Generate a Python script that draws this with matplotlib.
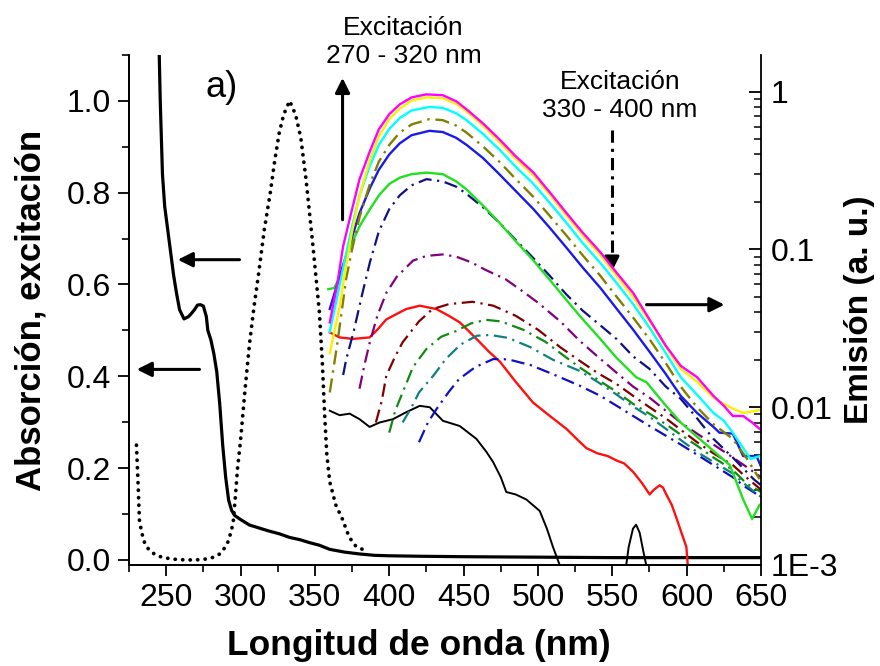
import matplotlib
matplotlib.use("Agg")
import matplotlib.pyplot as plt
from matplotlib.ticker import MultipleLocator, FixedLocator, FixedFormatter, LogLocator, NullFormatter

plt.rcParams['font.family'] = ['Liberation Sans', 'DejaVu Sans']

# absorption (left axis)
abs_x = [245, 246, 247.5, 249, 251, 253, 255, 257, 259, 262, 265, 267, 269, 271, 273, 275, 277, 278,
         280, 282, 284, 286, 288, 290, 292, 294, 296, 300, 306, 312, 319, 326, 333, 340, 346, 353, 360,
         370, 380, 390, 400, 420, 450, 500, 550, 600, 650]
abs_y = [1.15, 1.0, 0.84, 0.77, 0.72, 0.67, 0.62, 0.58, 0.545, 0.525, 0.53, 0.537, 0.545, 0.555, 0.556,
         0.553, 0.53, 0.50, 0.48, 0.45, 0.41, 0.34, 0.25, 0.18, 0.13, 0.108, 0.097, 0.088, 0.076, 0.070,
         0.063, 0.057, 0.049, 0.044, 0.038, 0.032, 0.023, 0.017, 0.013, 0.010, 0.009, 0.008, 0.007,
         0.006, 0.005, 0.005, 0.005]

# excitation spectrum (dotted, left axis)
exc_x = [230, 231, 232, 233.5, 235.5, 238, 241, 245, 250, 257, 263, 270, 277, 282, 286, 289, 291.5,
         293.5, 295, 296.5, 298, 300, 303, 306, 309, 312, 316, 320, 323, 326, 329, 333, 337, 340.5,
         344, 348.5, 353, 355, 356.5, 358, 360, 364, 368.5, 373, 377.5, 384]
exc_y = [0.25, 0.174, 0.087, 0.06, 0.037, 0.024, 0.015, 0.008, 0.004, 0.001, 0.0, 0.0, 0.002, 0.006,
         0.013, 0.025, 0.039, 0.06, 0.08, 0.137, 0.2, 0.26, 0.37, 0.47, 0.55, 0.62, 0.72, 0.80, 0.87,
         0.93, 0.97, 1.0, 0.97, 0.92, 0.83, 0.69, 0.54, 0.43, 0.32, 0.23, 0.17, 0.12, 0.089, 0.05,
         0.03, 0.02]

# emission spectra (right axis, log)
mag_x = [360, 365, 369, 375, 380, 387, 393, 400, 407, 415, 425, 436, 445, 452, 463, 474, 485, 497, 508,
         519, 530, 542, 553, 564, 575, 586, 596, 607, 618, 625, 631, 638, 644, 649]
mag_y = [0.0345, 0.06, 0.105, 0.18, 0.279, 0.42, 0.577, 0.72, 0.83, 0.92, 0.962, 0.95, 0.87, 0.773,
         0.63, 0.5, 0.39, 0.307, 0.23, 0.171, 0.128, 0.096, 0.071, 0.053, 0.036, 0.0245, 0.0183, 0.0155,
         0.0118, 0.0102, 0.0088, 0.0088, 0.0080, 0.0073]

yel_x = [360, 363, 367, 370, 375, 380, 387, 393, 400, 407, 415, 425, 436, 445, 452, 463, 474, 485, 497,
         508, 519, 530, 542, 553, 564, 575, 586, 596, 607, 618, 625, 631, 638, 644, 649]
yel_y = [0.022, 0.03, 0.045, 0.07, 0.13, 0.22, 0.37, 0.52, 0.67, 0.78, 0.88, 0.92, 0.91, 0.84, 0.75,
         0.61, 0.48, 0.375, 0.295, 0.222, 0.165, 0.123, 0.092, 0.068, 0.05, 0.035, 0.024, 0.0175,
         0.0145, 0.0115, 0.0105, 0.0098, 0.0092, 0.0094, 0.0096]

cya_x = [360, 365, 370, 375, 380, 387, 393, 400, 407, 415, 427, 436, 445, 452, 463, 474, 485, 497, 508,
         519, 530, 542, 553, 564, 575, 586, 596, 607, 618, 625, 631, 638, 643, 649]
cya_y = [0.03, 0.05, 0.085, 0.14, 0.22, 0.34, 0.46, 0.58, 0.68, 0.76, 0.80, 0.79, 0.73, 0.66, 0.54,
         0.43, 0.335, 0.26, 0.197, 0.148, 0.11, 0.082, 0.061, 0.045, 0.032, 0.022, 0.0155, 0.012,
         0.0092, 0.0082, 0.0069, 0.0055, 0.0047, 0.0049]

oli_x = [360, 365, 371, 375, 380, 387, 393, 400, 407, 415, 427, 436, 445, 452, 463, 474, 485, 497, 508,
         519, 530, 542, 553, 564, 575, 586, 596, 607, 618, 631, 640, 649]
oli_y = [0.0124, 0.025, 0.065, 0.1, 0.16, 0.26, 0.36, 0.46, 0.55, 0.62, 0.67, 0.66, 0.61, 0.55, 0.45,
         0.36, 0.28, 0.215, 0.163, 0.123, 0.092, 0.068, 0.05, 0.037, 0.027, 0.019, 0.0135, 0.01,
         0.0078, 0.0063, 0.0048, 0.0035]

blu_x = [360, 365, 370, 375, 380, 387, 393, 400, 407, 415, 427, 436, 445, 452, 463, 474, 485, 497, 508,
         519, 530, 542, 553, 564, 575, 586, 596, 607, 618, 622, 631, 638, 647, 650]
blu_y = [0.042, 0.06, 0.085, 0.12, 0.17, 0.245, 0.32, 0.4, 0.47, 0.53, 0.565, 0.555, 0.51, 0.46, 0.38,
         0.3, 0.235, 0.18, 0.137, 0.103, 0.077, 0.057, 0.042, 0.031, 0.0225, 0.0162, 0.0118, 0.0092,
         0.0075, 0.0069, 0.0068, 0.0049, 0.0049, 0.0042]

grn_x = [359, 363, 366, 370, 375, 380, 387, 393, 400, 407, 415, 425, 436, 445, 452, 463, 474, 485, 497,
         508, 519, 528, 542, 553, 566, 573, 585, 596, 607, 622, 629, 638, 644, 649]
grn_y = [0.056, 0.057, 0.065, 0.085, 0.11, 0.14, 0.18, 0.22, 0.26, 0.285, 0.30, 0.307, 0.30, 0.27, 0.24,
         0.19, 0.148, 0.113, 0.085, 0.064, 0.048, 0.038, 0.027, 0.0205, 0.0155, 0.0144, 0.0105, 0.008,
         0.0065, 0.0049, 0.0043, 0.0026, 0.00196, 0.0024]

nav_x = [369, 371, 376, 382, 387, 393, 400, 407, 415, 425, 436, 445, 452, 463, 474, 485, 497, 508, 519,
         530, 542, 553, 564, 575, 586, 596, 607, 618, 631, 645, 650]
nav_y = [0.016, 0.02, 0.03, 0.053, 0.083, 0.13, 0.18, 0.22, 0.255, 0.279, 0.27, 0.25, 0.225, 0.185,
         0.148, 0.115, 0.088, 0.068, 0.052, 0.041, 0.033, 0.027, 0.021, 0.0175, 0.0135, 0.0113, 0.0085,
         0.0063, 0.0048, 0.0035, 0.0032]

pur_x = [380, 383, 387, 392, 398, 405, 416, 425, 436, 445, 455, 465, 478, 490, 500, 515, 528, 540, 553,
         564, 575, 586, 596, 607, 618, 631, 640, 650]
pur_y = [0.0131, 0.018, 0.026, 0.038, 0.053, 0.067, 0.085, 0.091, 0.093, 0.09, 0.083, 0.074, 0.065,
         0.054, 0.046, 0.035, 0.0264, 0.021, 0.0165, 0.0135, 0.0115, 0.0095, 0.008, 0.0068, 0.0058,
         0.0048, 0.0042, 0.0036]

dre_x = [391, 395, 398, 404, 409, 420, 429, 440, 456, 470, 485, 500, 515, 528, 540, 553, 564, 575, 586,
         596, 607, 618, 631, 640, 650]
dre_y = [0.008, 0.011, 0.0158, 0.021, 0.0258, 0.035, 0.0418, 0.045, 0.0466, 0.044, 0.038, 0.031, 0.024,
         0.0197, 0.0165, 0.014, 0.0118, 0.01, 0.0085, 0.0072, 0.006, 0.0051, 0.0043, 0.0036, 0.003]

gdd_x = [400, 404, 409, 416, 425, 435, 445, 455, 465, 475, 490, 505, 518, 528, 540, 553, 564, 575, 586,
         596, 607, 618, 631, 640, 650]
gdd_y = [0.0069, 0.0095, 0.0124, 0.018, 0.0234, 0.028, 0.0304, 0.034, 0.0358, 0.035, 0.031, 0.026,
         0.021, 0.0179, 0.015, 0.0125, 0.0105, 0.0091, 0.0078, 0.0067, 0.0057, 0.0048, 0.004, 0.0033,
         0.0029]

tea_x = [409, 415, 420, 430, 438, 448, 459, 468, 480, 495, 510, 528, 540, 553, 564, 575, 586, 596, 607,
         618, 631, 640, 650]
tea_y = [0.008, 0.01, 0.0124, 0.016, 0.0202, 0.025, 0.0284, 0.0287, 0.0275, 0.024, 0.02, 0.017, 0.0145,
         0.012, 0.0101, 0.0087, 0.0073, 0.0062, 0.0052, 0.0045, 0.0038, 0.0032, 0.0027]

bdd_x = [420, 426, 432, 440, 447, 458, 470, 480, 495, 510, 528, 542, 553, 564, 575, 586, 596, 607, 618,
         631, 640, 650]
bdd_y = [0.006, 0.008, 0.0098, 0.0125, 0.0151, 0.018, 0.0202, 0.0201, 0.0185, 0.0162, 0.0137, 0.0118,
         0.0102, 0.0088, 0.0076, 0.0066, 0.0058, 0.005, 0.0043, 0.0036, 0.0031, 0.0027]

red_x = [360, 366.6, 375.6, 386.8, 392, 398, 405, 411.4, 420.5, 431.7, 440, 447.4, 454, 460.9, 467, 474.3,
         485, 496.7, 508, 519.1, 526, 532.6, 540, 547, 552.7, 558, 563.9, 570, 575.1, 578, 581.8, 584,
         586.3, 590, 593, 596.5, 599.8, 601.5]
red_y = [0.0298, 0.0277, 0.0271, 0.0277, 0.031, 0.036, 0.039, 0.0419, 0.044, 0.0419, 0.038, 0.0345,
         0.030, 0.0258, 0.0225, 0.0195, 0.0145, 0.0107, 0.0088, 0.0073, 0.0063, 0.0055, 0.0051, 0.0049,
         0.0046, 0.0044, 0.0039, 0.0033, 0.0028, 0.0030, 0.0032, 0.0031, 0.0028, 0.0024, 0.0020, 0.0016,
         0.0013, 0.0008]

blk_x = [360, 366.6, 373.4, 380, 386.8, 393.5, 402.5, 411.4, 420.5, 427.2, 436.1, 447.4, 458.6, 465.4,
         469.8, 475, 478.7, 485, 492.2, 501.2, 506, 510.1, 514.6, 516]
blk_y = [0.0095, 0.0089, 0.0091, 0.0084, 0.0075, 0.008, 0.0084, 0.0093, 0.0102, 0.01, 0.0082, 0.0076,
         0.0063, 0.0052, 0.0045, 0.0036, 0.0029, 0.0028, 0.0026, 0.0022, 0.0017, 0.0013, 0.001, 0.0008]
bump_x = [558, 561, 563.9, 566, 568.4, 571, 575]
bump_y = [0.0008, 0.0013, 0.0017, 0.0018, 0.0016, 0.0012, 0.0008]

x_ticks = [250, 300, 350, 400, 450, 500, 550, 600, 650]
left_ticks = [0.0, 0.2, 0.4, 0.6, 0.8, 1.0]
right_ticks = [1e-3, 0.01, 0.1, 1]
right_labels = ["1E-3", "0.01", "0.1", "1"]

fig = plt.figure(figsize=(8.8, 6.66), dpi=100)
ax = fig.add_axes([0.1466, 0.1517, 0.7182, 0.7658])
ax2 = ax.twinx()

ax.plot(abs_x, abs_y, color='black', lw=2.3)
ax.plot(exc_x, exc_y, color='black', lw=2.7, linestyle=(0, (0.05, 1.95)), dash_capstyle='round')

dd = (0, (6, 2.5, 1, 2.5))
ax2.plot(blk_x, blk_y, color='black', lw=1.4)
ax2.plot(bump_x, bump_y, color='black', lw=1.4)
ax2.plot(red_x, red_y, color='#ff1010', lw=1.7)
ax2.plot(bdd_x, bdd_y, color='#1010c0', lw=1.6, linestyle=dd)
ax2.plot(tea_x, tea_y, color='#108080', lw=1.6, linestyle=dd)
ax2.plot(gdd_x, gdd_y, color='#108a10', lw=1.6, linestyle=dd)
ax2.plot(dre_x, dre_y, color='#800000', lw=1.6, linestyle=dd)
ax2.plot(pur_x, pur_y, color='#800080', lw=1.6, linestyle=dd)
ax2.plot(nav_x, nav_y, color='#101080', lw=1.6, linestyle=dd)
ax2.plot(grn_x, grn_y, color='#20e020', lw=1.7)
ax2.plot(blu_x, blu_y, color='#1a1ae6', lw=1.7)
ax2.plot(oli_x, oli_y, color='#808000', lw=1.7, linestyle=dd)
ax2.plot(cya_x, cya_y, color='#00ffff', lw=1.7)
ax2.plot(yel_x, yel_y, color='#ffee00', lw=1.7)
ax2.plot(mag_x, mag_y, color='#ff00ff', lw=1.7)

ax.set_xlim(225, 650)
ax.set_ylim(-0.011, 1.10)
ax2.set_yscale('log')
ax2.set_ylim(1e-3, 1.71)

ax.xaxis.set_major_locator(FixedLocator(x_ticks))
ax.xaxis.set_minor_locator(MultipleLocator(25))
ax.yaxis.set_major_locator(FixedLocator(left_ticks))
ax.yaxis.set_minor_locator(MultipleLocator(0.1))
ax.set_yticklabels(["%.1f" % t for t in left_ticks])
ax2.yaxis.set_major_locator(FixedLocator(right_ticks))
ax2.yaxis.set_major_formatter(FixedFormatter(right_labels))
ax2.yaxis.set_minor_locator(LogLocator(base=10, subs=range(2, 10)))
ax2.yaxis.set_minor_formatter(NullFormatter())

for a in (ax, ax2):
    a.spines['top'].set_visible(False)
    for s in a.spines.values():
        s.set_linewidth(1.3)
ax.spines['right'].set_visible(False)

ax.tick_params(axis='both', which='major', direction='out', length=8, width=1.3, labelsize=23, pad=5)
ax.tick_params(axis='both', which='minor', direction='out', length=5, width=1.2)
ax2.tick_params(axis='y', which='major', direction='in', length=9, width=1.3, labelsize=23, pad=7)
ax2.tick_params(axis='y', which='minor', direction='in', length=5, width=1.1)

ax.set_xlabel("Longitud de onda (nm)", fontsize=25.5, fontweight='bold')
ax.xaxis.set_label_coords(0.459, -0.125)
ax.set_ylabel("Absorción, excitación", fontsize=25, fontweight='bold', labelpad=14)
ax2.set_ylabel("Emisión (a. u.)", fontsize=24, fontweight='bold', labelpad=4)

ax.text(287, 1.028, "a)", fontsize=26, ha='center', va='center')
ax.text(409.7, 1.128, "Excitación\n270 - 320 nm", fontsize=19, ha='center', va='center',
        linespacing=1.2, clip_on=False)
ax.text(555, 1.011, "Excitación\n330 - 400 nm", fontsize=19, ha='center', va='center', linespacing=1.2,
        clip_on=False)

arrow = dict(arrowstyle='-|>', color='black', lw=2.2, mutation_scale=22, shrinkA=0, shrinkB=0)
ax.annotate("", xy=(368.6, 1.05), xytext=(368.6, 0.741), arrowprops=arrow, annotation_clip=False)
ax.annotate("", xy=(625.4, 0.556), xytext=(573, 0.556), arrowprops=arrow)
ax.annotate("", xy=(257.8, 0.654), xytext=(299.3, 0.654), arrowprops=arrow)
ax.annotate("", xy=(230.2, 0.415), xytext=(272.4, 0.415), arrowprops=arrow)
ax.plot([549.7, 549.7], [0.937, 0.66], color='black', lw=2.2, linestyle=(0, (4, 2, 1, 2)))
ax.annotate("", xy=(549.7, 0.628), xytext=(549.7, 0.66), arrowprops=arrow)

fig.savefig("out.png", dpi=100, facecolor='white')
